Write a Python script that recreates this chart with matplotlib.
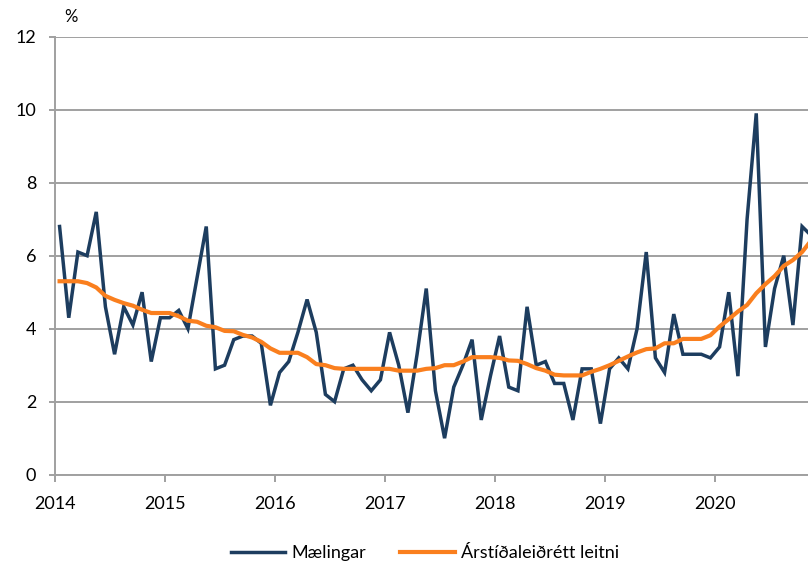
import numpy as np
import pandas as pd
import matplotlib
matplotlib.use("Agg")
import matplotlib.pyplot as plt

plt.rcParams["font.family"] = ["Lato", "DejaVu Sans"]

# monthly series, Jan 2014 - Nov 2020
months = pd.date_range("2014-01-01", "2020-11-01", freq="MS")

maelingar = [
    6.8, 4.3, 6.1, 6.0, 7.2, 4.6, 3.3, 4.6, 4.1, 5.0, 3.1, 4.3,
    4.3, 4.5, 4.0, 5.4, 6.8, 2.9, 3.0, 3.7, 3.8, 3.8, 3.6, 1.9,
    2.8, 3.1, 3.9, 4.8, 3.9, 2.2, 2.0, 2.9, 3.0, 2.6, 2.3, 2.6,
    3.9, 3.0, 1.7, 3.3, 5.1, 2.3, 1.0, 2.4, 3.0, 3.7, 1.5, 2.7,
    3.8, 2.4, 2.3, 4.6, 3.0, 3.1, 2.5, 2.5, 1.5, 2.9, 2.9, 1.4,
    2.9, 3.2, 2.9, 4.0, 6.1, 3.2, 2.8, 4.4, 3.3, 3.3, 3.3, 3.2,
    3.5, 5.0, 2.7, 7.0, 9.9, 3.5, 5.1, 6.0, 4.1, 6.8, 6.55,
]

leitni = [
    5.3, 5.3, 5.3, 5.25, 5.13, 4.9, 4.79, 4.7, 4.63, 4.52, 4.43, 4.43,
    4.43, 4.34, 4.22, 4.19, 4.08, 4.04, 3.94, 3.93, 3.83, 3.76, 3.64, 3.46,
    3.34, 3.34, 3.34, 3.22, 3.03, 3.0, 2.92, 2.9, 2.9, 2.9, 2.9, 2.9,
    2.9, 2.85, 2.85, 2.85, 2.9, 2.92, 3.0, 3.0, 3.1, 3.22, 3.22, 3.22,
    3.2, 3.13, 3.12, 3.03, 2.92, 2.85, 2.74, 2.72, 2.72, 2.72, 2.82, 2.9,
    3.0, 3.12, 3.24, 3.35, 3.44, 3.46, 3.6, 3.6, 3.72, 3.72, 3.72, 3.82,
    4.06, 4.26, 4.47, 4.65, 4.97, 5.22, 5.44, 5.72, 5.88, 6.1, 6.42,
]

year_ticks = [2014, 2015, 2016, 2017, 2018, 2019, 2020]

blue = "#1D3D5F"
orange = "#FA7F1E"
grid_gray = "#A0A0A0"

# each month sits in the middle of its slot on the year axis
x = months.year + (months.month - 0.5) / 12.0

fig = plt.figure(figsize=(8.08, 5.65), dpi=100)
ax = fig.add_axes([55 / 808, 1 - 474.7 / 565, 1 - 55 / 808, (474.7 - 36.7) / 565])

ax.plot(x, maelingar, color=blue, linewidth=2.5, label="Mælingar", zorder=3,
        solid_joinstyle="miter")
ax.plot(x, leitni, color=orange, linewidth=3.0, label="Árstíðaleiðrétt leitni", zorder=4)

ax.set_ylim(0, 12)
ax.set_yticks(range(0, 13, 2))
ax.set_xlim(2014, 2014 + (808 - 55) / 110)
ax.set_xticks(year_ticks)
ax.set_xticklabels([str(y) for y in year_ticks])

ax.grid(axis="y", color=grid_gray, linewidth=1.4, zorder=1)
ax.set_axisbelow(True)
for side in ["top", "right"]:
    ax.spines[side].set_visible(False)
for side in ["left", "bottom"]:
    ax.spines[side].set_color(grid_gray)
    ax.spines[side].set_linewidth(1.4)
ax.spines["bottom"].set_zorder(2)

ax.tick_params(axis="y", length=4.5, width=1.4, color=grid_gray, pad=9,
               labelsize=13, labelcolor="black")
ax.tick_params(axis="x", length=5, width=1.4, color=grid_gray, pad=10,
               labelsize=13, labelcolor="black")

fig.text(71 / 808, 1 - 17 / 565, "%", ha="center", va="center", fontsize=12)

fig.legend(
    loc="center",
    bbox_to_anchor=(425 / 808, 1 - 553 / 565),
    ncol=2,
    frameon=False,
    fontsize=13,
    handlelength=3.0,
    handletextpad=0.35,
    columnspacing=1.9,
)

fig.savefig("out.png", dpi=100)
